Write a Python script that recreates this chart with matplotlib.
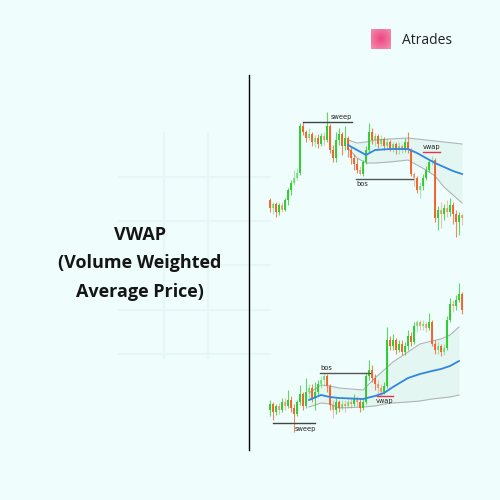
import numpy as np
import matplotlib
matplotlib.use("Agg")
import matplotlib.pyplot as plt

# ---------------- data ----------------
title_lines = ["VWAP", "(Volume Weighted", "Average Price)"]
legend_label = "Atrades"

# top chart (bearish sweep / bos example)
top_open  = [50,42,46,38,45,40,50,60,67,72,77,124,118,112,116,108,112,106,114,110,
             124,100,92,110,116,104,112,100,92,86,80,76,88,100,118,110,114,106,111,104,
             108,102,106,100,104,100,108,100,76,72,60,64,72,80,88,90,32,40,36,42,
             38,45,36,28,35]
top_close = [42,46,38,45,40,50,60,67,72,77,124,118,112,116,108,112,106,114,110,124,
             100,92,110,116,104,112,100,92,86,80,76,88,100,118,110,114,106,111,104,108,
             102,106,100,104,100,108,100,76,72,60,64,72,80,88,90,32,40,36,42,38,
             45,36,28,35,32]
top_high  = [52,48,48,47,48,52,62,70,80,82,127,128,120,122,118,115,116,117,118,138,
             126,105,118,122,118,124,114,103,96,92,84,90,104,127,122,117,116,115,113,112,
             110,108,108,108,106,112,118,102,78,74,68,76,84,90,94,92,44,48,46,50,
             52,48,40,38,37]
top_low   = [38,36,33,35,38,39,45,55,65,70,75,115,108,110,104,103,102,104,105,108,
             97,88,88,105,95,100,93,86,80,77,75,74,86,98,106,104,102,104,100,102,
             99,98,96,96,97,98,97,74,64,57,52,60,70,78,85,28,20,22,30,33,
             34,26,13,15,25]
top_band_x = [26, 29, 32, 35, 40, 46, 49, 52, 55, 58, 61, 64]
top_vwap   = [105, 100, 95, 100, 101, 101, 97, 92, 87, 83, 79, 76]
top_upper  = [110, 107, 108, 110, 111, 112, 111, 110, 109, 108, 107, 106]
top_lower  = [102, 92, 87, 87, 88, 90, 85, 80, 74, 63, 55, 47]

# bottom chart (bullish sweep / bos example)
bot_open  = [40,46,38,44,40,48,44,50,42,36,48,56,44,58,62,52,58,66,70,74,
             64,45,40,48,42,46,44,48,46,52,48,42,48,74,80,72,66,62,58,64,
             110,104,110,100,106,98,104,114,108,124,128,124,126,122,128,106,100,104,98,102,
             130,146,144,150,156]
bot_close = [46,38,44,40,48,44,50,42,36,48,56,44,58,62,52,58,66,70,74,64,
             45,40,48,42,46,44,48,46,52,48,42,48,74,80,72,66,62,58,64,110,
             104,110,100,106,98,104,114,108,124,128,124,126,122,128,106,100,104,98,102,130,
             146,144,150,156,140]
bot_high  = [50,48,46,47,52,52,60,54,46,50,65,58,72,66,66,68,70,74,77,76,
             66,50,52,50,50,50,52,52,56,54,52,52,78,90,85,76,70,66,68,123,
             114,116,112,110,110,108,120,118,128,130,130,130,128,137,130,110,108,106,106,134,
             152,150,155,167,158]
bot_low   = [34,30,35,36,38,40,42,38,18,34,45,40,42,50,48,40,55,62,65,58,
             40,32,36,38,40,38,42,42,44,44,38,40,46,70,68,60,56,54,56,62,
             100,100,96,98,95,95,100,104,106,118,120,120,118,120,104,96,96,94,95,100,
             128,138,140,148,136]
bot_band_x = [13, 17, 20, 23, 31, 35, 38, 41, 46, 50, 54, 57, 60, 63]
bot_vwap   = [50, 55, 53, 52, 51, 54, 57, 63, 72, 76, 79, 81, 84, 89]
bot_upper  = [57, 65, 64, 62, 60, 72, 80, 88, 98, 106, 109, 111, 115, 123]
bot_lower  = [43, 47, 46, 42, 43, 44, 46, 47, 48, 49, 51, 52, 53, 55]

# annotation levels  (x-range in candle index, price level)
top_sweep = ([11, 27.3], 128)
top_bos   = ([28.7, 47.7], 71)
top_vwap_mark = ([51, 56.7], 98)
bot_sweep = ([1, 15], 27)
bot_bos   = ([16.7, 33.3], 77)
bot_vwap_mark = ([35.7, 41], 54)

# ---------------- style ----------------
BG = "#effefd"
GREEN = "#2fcc2f"
RED = "#f2622c"
BLUE = "#2f86e0"
BAND = "#b0b4b4"
FILL = "#e2f5ee"

fig = plt.figure(figsize=(5, 5), dpi=100, facecolor=BG)
base = fig.add_axes([0, 0, 1, 1])
base.set_xlim(0, 500)
base.set_ylim(500, 0)
base.axis("off")
base.set_facecolor(BG)

# faint background grid
gcol = "#e6f7f7"
for gx in [164, 208]:
    base.plot([gx, gx], [133, 358], color=gcol, lw=1.5, zorder=0)
for gy in [177, 221, 265, 310, 354]:
    base.plot([119, 270], [gy, gy], color=gcol, lw=1.5, zorder=0)

# divider
base.plot([249, 249], [75, 450], color="black", lw=1.0, zorder=2)

# title
for k, line in enumerate(title_lines):
    base.text(140, 235 + 28.5 * k, line, ha="center", va="center",
              fontsize=13, fontweight="bold", family="Open Sans", color="#151515")

# legend
yy, xx = np.mgrid[-1:1:40j, -1:1:40j]
rr = np.sqrt(xx ** 2 + yy ** 2)
c0 = np.array([0.93, 0.27, 0.50])
c1 = np.array([0.96, 0.55, 0.68])
grad = c0[None, None, :] + (c1 - c0)[None, None, :] * np.clip(rr / 1.3, 0, 1)[..., None]
lax = fig.add_axes([371 / 500, 1 - 49 / 500, 20 / 500, 20 / 500])
lax.imshow(grad, extent=[0, 1, 0, 1])
lax.axis("off")
base.text(402, 40, legend_label, ha="left", va="center", fontsize=10,
          family="Open Sans", color="#222222")


def draw_chart(ax, o, c, h, l, bx, vw, up, lo, sweep, bos, vmark,
               sweep_above, bos_above):
    o = np.asarray(o); c = np.asarray(c); h = np.asarray(h); l = np.asarray(l)
    idx = np.arange(len(o))
    ax.fill_between(bx, lo, up, color=FILL, alpha=0.8, lw=0, zorder=1)
    ax.plot(bx, up, color=BAND, lw=0.8, zorder=2)
    ax.plot(bx, lo, color=BAND, lw=0.8, zorder=2)
    ax.plot(bx, vw, color=BLUE, lw=1.3, zorder=4)
    for i in idx:
        col = GREEN if c[i] >= o[i] else RED
        a = 0.95 if abs(c[i] - o[i]) >= 6 else 0.5
        ax.vlines(i, l[i], h[i], color=col, lw=0.8, alpha=a * 0.8, zorder=3)
        ax.bar(i, max(abs(c[i] - o[i]), 1.5), bottom=min(o[i], c[i]), width=0.8,
               color=col, alpha=a, lw=0, zorder=3)
    # sweep
    ax.plot(sweep[0], [sweep[1]] * 2, color="#444444", lw=1.0, zorder=5)
    sx = sweep[0][0] + (sweep[0][1] - sweep[0][0]) * 0.78
    ax.text(sx, sweep[1] + (4.5 if sweep_above else -5.5), "sweep", ha="center",
            va="center", fontsize=4.8, color="#222222", zorder=6)
    # bos
    ax.plot(bos[0], [bos[1]] * 2, color="#555555", lw=1.0, zorder=5)
    bxx = bos[0][0] + 2.0
    ax.text(bxx, bos[1] + (4.5 if bos_above else -5.0), "bos", ha="center",
            va="center", fontsize=4.8, color="#222222", zorder=6)
    # vwap mark
    ax.plot(vmark[0], [vmark[1]] * 2, color="#e8324a", lw=1.0, zorder=5)
    ax.text(np.mean(vmark[0]), vmark[1] + (5.0 if not bos_above else -4.5), "vwap",
            ha="center", va="center", fontsize=4.8, color="#222222", zorder=6)


top_ax = fig.add_axes([266 / 500, 0.5, 200 / 500, 0.28])
top_ax.set_xlim(-4 / 3, 196 / 3)
top_ax.set_ylim(0, 140)
top_ax.axis("off")
draw_chart(top_ax, top_open, top_close, top_high, top_low, top_band_x, top_vwap,
           top_upper, top_lower, top_sweep, top_bos, top_vwap_mark,
           sweep_above=True, bos_above=False)

bot_ax = fig.add_axes([266 / 500, 0.12, 200 / 500, 0.32])
bot_ax.set_xlim(-4 / 3, 196 / 3)
bot_ax.set_ylim(10, 170)
bot_ax.axis("off")
draw_chart(bot_ax, bot_open, bot_close, bot_high, bot_low, bot_band_x, bot_vwap,
           bot_upper, bot_lower, bot_sweep, bot_bos, bot_vwap_mark,
           sweep_above=False, bos_above=True)

fig.savefig("out.png", dpi=100, facecolor=BG)
